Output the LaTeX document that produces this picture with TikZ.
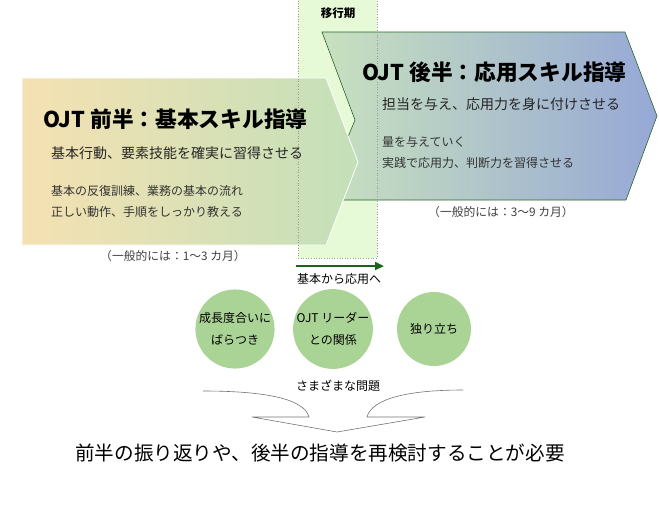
\documentclass[tikz,border=0pt]{standalone}
\usepackage{fontspec}
\setmainfont{Noto Sans CJK JP}
\usepackage{xcolor}
\usepackage{tikz}
\usetikzlibrary{arrows.meta}
\definecolor{bandgreen}{RGB}{230,250,215}
\definecolor{earlytan}{RGB}{245,225,178}
\definecolor{earlygreen}{RGB}{195,224,185}
\definecolor{lategreen}{RGB}{200,225,190}
\definecolor{lateblue}{RGB}{150,168,214}
\definecolor{edgegreen}{RGB}{45,100,45}
\definecolor{issuegreen}{RGB}{170,212,150}
\definecolor{arrowgreen}{RGB}{25,100,25}

\begin{document}
\begin{tikzpicture}[
    x=1pt, y=-1pt,
    >={Triangle[length=9pt,width=8pt]},
    title/.style={anchor=west, inner sep=0pt, font=\fontsize{21.7}{25}\selectfont\bfseries},
    lead/.style={anchor=west, inner sep=0pt, text=black!85, font=\fontsize{14}{17}\selectfont},
    detail/.style={anchor=west, inner sep=0pt, text=black!80, font=\fontsize{12}{14}\selectfont},
    period/.style={inner sep=0pt, text=black!75, font=\fontsize{11.8}{14}\selectfont},
    issue/.style={circle, fill=issuegreen, minimum size=74pt, inner sep=0pt, align=center, font=\fontsize{12}{22}\selectfont},
    progress/.style={->, line width=2.6pt, draw=arrowgreen, fill=arrowgreen}
]
\useasboundingbox (0,0) rectangle (659,506);
% transition band
\fill[bandgreen] (298,-2) rectangle (377,258);
% later half
\shadedraw[left color=lategreen, right color=lateblue, draw=edgegreen, line width=0.6pt]
  (322,32) -- (625,32) -- (657,116) -- (626,200) -- (322,200) -- (355,120) -- cycle;
% first half
\shadedraw[left color=earlytan, right color=earlygreen, draw=white, line width=0.8pt]
  (22,78) -- (326,78) -- (358,162) -- (326,245) -- (22,245) -- cycle;
\draw[black!40, dotted, line width=0.6pt] (298,-2) rectangle (377,258);
\node[font=\fontsize{11.5}{14}\selectfont\bfseries, inner sep=0pt] (bandlabel) at (338,13) {移行期};

\node[title] (earlytitle) at (43,119) {OJT 前半：基本スキル指導};
\node[lead] (earlylead) at (51,153) {基本行動、要素技能を確実に習得させる};
\node[detail] (earlyone) at (51,191) {基本の反復訓練、業務の基本の流れ};
\node[detail] (earlytwo) at (51,212) {正しい動作、手順をしっかり教える};
\node[period] (earlyperiod) at (173,256) {（一般的には：1～3 カ月）};

\node[title] (latetitle) at (362,72) {OJT 後半：応用スキル指導};
\node[lead] (latelead) at (382,104) {担当を与え、応用力を身に付けさせる};
\node[detail] (lateone) at (382,142) {量を与えていく};
\node[detail] (latetwo) at (382,163) {実践で応用力、判断力を習得させる};
\node[period] (lateperiod) at (501,212) {（一般的には：3～9 カ月）};

\coordinate (progstart) at (296,266);
\coordinate (progend) at (384,266);
\draw[progress] (progstart) -- (progend);
\node[font=\fontsize{12}{14}\selectfont, inner sep=0pt] (proglabel) at (339,279) {基本から応用へ};

\node[issue] (spread) at (235,329) {成長度合いに\\ばらつき};
\node[issue] (leader) at (333,329) {OJT リーダー\\との関係};
\node[issue] (alone) at (434,329) {独り立ち};

\node[font=\fontsize{12}{14}\selectfont, inner sep=0pt] (issues) at (338,386) {さまざまな問題};
\draw[black!55, line width=0.6pt, line join=round]
  (203,391) .. controls (262,391) and (304,398) .. (309,417) -- (252,417) -- (337,432)
  -- (425,417) -- (367,417) .. controls (372,398) and (410,390) .. (463,390);

\node[font=\fontsize{19.6}{23}\selectfont, inner sep=0pt] (needed) at (320,453) {前半の振り返りや、後半の指導を再検討することが必要};
\end{tikzpicture}
\end{document}
